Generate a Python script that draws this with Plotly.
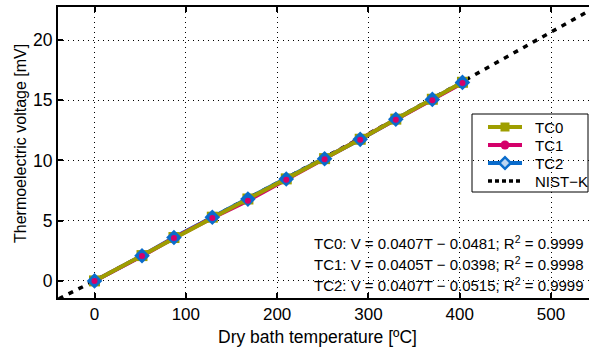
import plotly.graph_objects as go

# Dry-bath calibration of three K-type thermocouples
temp_c = [0, 52, 87, 129, 168, 210, 252, 291, 330, 370, 403]
tc0_mv = [0.00, 2.10, 3.60, 5.29, 6.80, 8.47, 10.15, 11.76, 13.43, 15.08, 16.49]
tc1_mv = [0.00, 2.06, 3.57, 5.23, 6.66, 8.40, 10.10, 11.72, 13.38, 15.00, 16.43]
tc2_mv = [0.00, 2.09, 3.60, 5.28, 6.79, 8.46, 10.14, 11.75, 13.42, 15.07, 16.48]

# NIST ITS-90 type K reference table
nist_t = [-50, 0, 50, 100, 150, 200, 250, 300, 350, 400, 450, 500, 550]
nist_mv = [-1.889, 0.000, 2.023, 4.096, 6.138, 8.138, 10.153, 12.209,
           14.293, 16.397, 18.516, 20.644, 22.776]

series_names = ["TC0", "TC1", "TC2", "NIST\u2212K"]
fit_labels = [
    "TC0: V = 0.0407T \u2212 0.0481; R<sup>2</sup> = 0.9999",
    "TC1: V = 0.0405T \u2212 0.0398; R<sup>2</sup> = 0.9998",
    "TC2: V = 0.0407T \u2212 0.0515; R<sup>2</sup> = 0.9999",
]

OLIVE = "#9e9e00"
MAGENTA = "#d4006a"
BLUE = "#0a6ccc"
FONT = "Liberation Sans, Arial, sans-serif"

W, H = 589, 350
ML, MT, MB = 58, 7, 52
PW, PH = W - ML, H - MT - MB


def fx(px):
    """pixel column -> plot-area fraction"""
    return (px - ML) / PW


def fy(py):
    """pixel row -> plot-area fraction"""
    return (H - MB - py) / PH


fig = go.Figure()

# reference curve underneath everything
fig.add_trace(go.Scatter(x=nist_t, y=nist_mv, mode="lines", showlegend=False,
                         line=dict(color="black", width=3.5, dash="5px,6px")))

# measured lines (olive drawn last so it sits on top)
for ys, col in [(tc2_mv, BLUE), (tc1_mv, MAGENTA), (tc0_mv, OLIVE)]:
    fig.add_trace(go.Scatter(x=temp_c, y=ys, mode="lines", showlegend=False,
                             line=dict(color=col, width=4)))

# markers: squares, then diamonds, then small circles on top
fig.add_trace(go.Scatter(x=temp_c, y=tc0_mv, mode="markers", showlegend=False,
                         marker=dict(symbol="square", size=11, color=OLIVE)))
fig.add_trace(go.Scatter(x=temp_c, y=tc2_mv, mode="markers", showlegend=False,
                         marker=dict(symbol="diamond", size=12, color=BLUE)))
fig.add_trace(go.Scatter(x=temp_c, y=tc1_mv, mode="markers", showlegend=False,
                         marker=dict(symbol="circle", size=6, color=MAGENTA)))

# hand-built legend on an overlay axis spanning the plot area
box_l, box_r, box_t, box_b = 472, 588, 114, 192
row_y = [127, 145, 163, 181]
samp_l, samp_r, text_x = 488, 522, 533

shapes = [dict(type="rect", xref="paper", yref="paper",
               x0=fx(box_l), x1=fx(box_r), y0=fy(box_b), y1=fy(box_t),
               line=dict(color="black", width=1), fillcolor="white",
               layer="between")]

styles = [
    dict(line=dict(color=OLIVE, width=4),
         marker=dict(symbol="square", size=9, color=OLIVE)),
    dict(line=dict(color=MAGENTA, width=4),
         marker=dict(symbol="circle", size=9, color=MAGENTA)),
    dict(line=dict(color=BLUE, width=4),
         marker=dict(symbol="diamond", size=9, color="#bcd6f2",
                     line=dict(color=BLUE, width=2.5))),
    dict(line=dict(color="black", width=3.5, dash="4px,3px")),
]
for name, ry, st in zip(series_names, row_y, styles):
    yy = fy(ry)
    fig.add_trace(go.Scatter(x=[fx(samp_l), fx(samp_r)], y=[yy, yy],
                             mode="lines", xaxis="x2", yaxis="y2",
                             showlegend=False, hoverinfo="skip",
                             line=st["line"]))
    if "marker" in st:
        fig.add_trace(go.Scatter(x=[fx((samp_l + samp_r) / 2)], y=[yy],
                                 mode="markers", xaxis="x2", yaxis="y2",
                                 showlegend=False, hoverinfo="skip",
                                 marker=st["marker"]))

annotations = []
for name, ry in zip(series_names, row_y):
    annotations.append(dict(text=name, xref="paper", yref="paper",
                            x=fx(text_x), y=fy(ry), xanchor="left",
                            yanchor="middle", showarrow=False,
                            font=dict(size=15, color="black", family=FONT)))

for i, txt in enumerate(fit_labels):
    annotations.append(dict(text=txt, xref="paper", yref="paper",
                            x=fx(586), y=fy(242 + 21 * i), xanchor="right",
                            yanchor="middle", showarrow=False,
                            font=dict(size=15, color="black", family=FONT)))

annotations.append(dict(text="Dry bath temperature [\u00baC]", xref="paper",
                        yref="paper", x=fx(317), y=fy(337), xanchor="center",
                        yanchor="middle", showarrow=False,
                        font=dict(size=17.5, color="black", family=FONT)))
annotations.append(dict(text="Thermoelectric voltage [mV]", xref="paper",
                        yref="paper", x=fx(20), y=fy(144), xanchor="center",
                        yanchor="middle", textangle=-90, showarrow=False,
                        font=dict(size=16, color="black", family=FONT)))

fig.update_layout(
    width=W, height=H,
    margin=dict(l=ML, r=0, t=MT, b=MB),
    paper_bgcolor="white", plot_bgcolor="white",
    font=dict(family=FONT, size=17, color="black"),
    annotations=annotations, shapes=shapes,
    showlegend=False,
    xaxis2=dict(overlaying="x", range=[0, 1], visible=False, fixedrange=True),
    yaxis2=dict(overlaying="y", range=[0, 1], visible=False, fixedrange=True),
)
fig.update_layout(xaxis=dict(
    range=[-40, 541.6], tickvals=[0, 100, 200, 300, 400, 500],
    ticks="inside", ticklen=5, tickwidth=1.5, tickcolor="black",
    showline=True, linecolor="black", linewidth=2, mirror="ticks",
    showgrid=True, gridcolor="black", gridwidth=1, griddash="1px,4px",
    zeroline=False, tickfont=dict(size=17)))
fig.update_layout(yaxis=dict(
    range=[-1.42, 22.74], tickvals=[0, 5, 10, 15, 20],
    ticks="inside", ticklen=5, tickwidth=1.5, tickcolor="black",
    showline=True, linecolor="black", linewidth=2,
    showgrid=True, gridcolor="black", gridwidth=1, griddash="1px,4px",
    zeroline=False, tickfont=dict(size=17.5)))

fig.write_html("out.html")
